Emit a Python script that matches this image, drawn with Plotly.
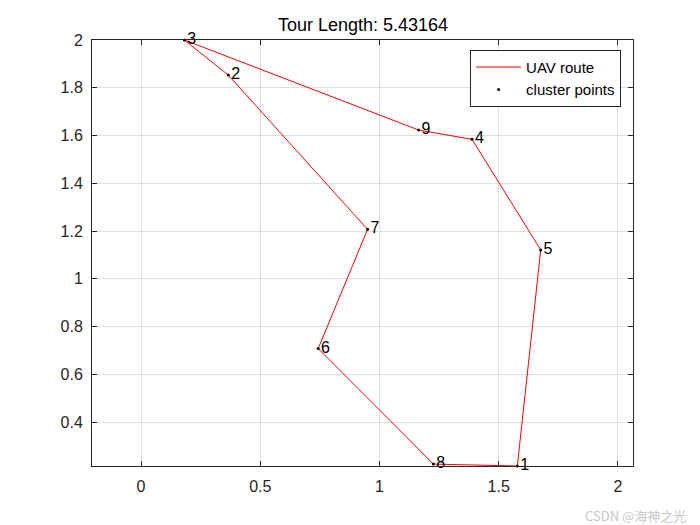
import plotly.graph_objects as go

# cluster point coordinates (index = point id - 1)
point_ids = [1, 2, 3, 4, 5, 6, 7, 8, 9]
point_x = [1.578, 0.366, 0.182, 1.388, 1.676, 0.743, 0.950, 1.226, 1.164]
point_y = [0.216, 1.853, 2.000, 1.584, 1.121, 0.708, 1.207, 0.224, 1.623]

# tour order (closed)
tour_order = [1, 5, 4, 9, 3, 2, 7, 6, 8, 1]
tour_length = 5.43164

x_ticks = [0, 0.5, 1, 1.5, 2]
y_ticks = [0.4, 0.6, 0.8, 1.0, 1.2, 1.4, 1.6, 1.8, 2.0]

route_x = [point_x[i - 1] for i in tour_order]
route_y = [point_y[i - 1] for i in tour_order]

FONT = "Liberation Sans, Arial"

fig = go.Figure()
fig.add_trace(go.Scatter(
    x=route_x, y=route_y, mode="lines", name="UAV route",
    line=dict(color="#ff0000", width=1), cliponaxis=False,
))
fig.add_trace(go.Scatter(
    x=point_x, y=point_y, mode="markers+text", name="cluster points",
    marker=dict(color="black", size=3),
    text=[str(i) for i in point_ids], textposition="middle right",
    textfont=dict(family=FONT, size=16, color="black"),
    cliponaxis=False,
))

axis_common = dict(
    showgrid=True, gridcolor="#dfdfdf", gridwidth=1,
    zeroline=False, showline=True, linecolor="#262626", linewidth=1,
    mirror="ticks", ticks="inside", ticklen=5, tickcolor="#262626",
    tickfont=dict(family=FONT, size=16, color="#262626"),
)

# plot area (figure coords, page has an 8px body offset): x 84..625, y 32..458
fig.update_layout(
    width=700, height=525,
    paper_bgcolor="white", plot_bgcolor="white",
    margin=dict(l=84, r=75, t=32, b=67),
    title=dict(
        text=f"Tour Length: {tour_length}",
        x=355 / 700, xanchor="center",
        y=1 - 17 / 525, yanchor="middle",
        font=dict(family=FONT, size=18, color="black"),
    ),
    xaxis=dict(range=[-0.2055, 2.063], tickvals=x_ticks,
               ticktext=["0", "0.5", "1", "1.5", "2"],
               ticklabelstandoff=6, **axis_common),
    yaxis=dict(range=[0.216, 2.0], tickvals=y_ticks,
               ticktext=["0.4", "0.6", "0.8", "1", "1.2", "1.4", "1.6", "1.8", "2"],
               ticklabelstandoff=5, **axis_common),
    legend=dict(
        x=0.978, y=0.977, xanchor="right", yanchor="top",
        bgcolor="white", bordercolor="#262626", borderwidth=1,
        font=dict(family=FONT, size=15, color="black"),
        tracegroupgap=0, itemwidth=45,
    ),
    showlegend=True,
)

fig.add_annotation(
    text="CSDN @海神之光", xref="paper", yref="paper",
    x=(680 - 84) / 541, y=(458 - 507) / 426, xanchor="right", yanchor="middle",
    showarrow=False,
    font=dict(family="Noto Sans CJK SC", size=13, color="#c8c8c8"),
)

fig.write_html("out.html")
